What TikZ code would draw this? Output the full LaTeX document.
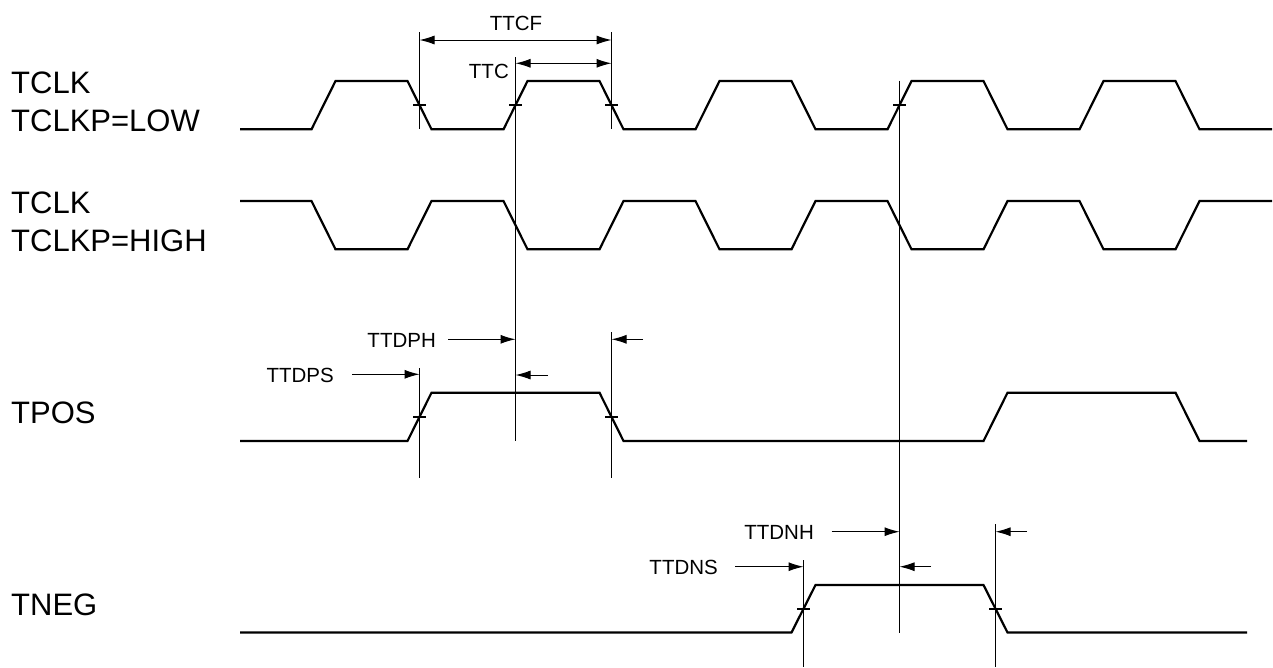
\documentclass[tikz,border=0pt]{standalone}
\usepackage{fontspec}
\setmainfont{Liberation Sans}
\usetikzlibrary{arrows.meta}
\begin{document}
\begin{tikzpicture}[x=1pt,y=-1pt,
  sig/.style={line width=2.2pt,line join=miter},
  mark line/.style={line width=1.9pt},
  tick/.style={line width=1.9pt},
  dim/.style={line width=1pt,-{Latex[length=15pt,width=9pt]}},
  dimboth/.style={line width=1pt,{Latex[length=15pt,width=9pt]}-{Latex[length=15pt,width=9pt]}},
  biglabel/.style={inner sep=0pt,anchor=base west,font=\fontsize{31}{38}\selectfont},
  smalllabel/.style={inner sep=0pt,font=\fontsize{20.5}{24}\selectfont}]
\useasboundingbox[fill=white] (0,0) rectangle (1273,667);

% signal labels
\node[biglabel] (l1a) at (11,93.3) {TCLK};
\node[biglabel] (l1b) at (11,131.7) {TCLKP=LOW};
\node[biglabel] (l2a) at (11,213.3) {TCLK};
\node[biglabel] (l2b) at (11,251.7) {TCLKP=HIGH};
\node[biglabel] (l3) at (11,423.3) {TPOS};
\node[biglabel] (l4) at (11,615.7) {TNEG};

% waveforms
\draw[sig] (240,129.3) -- (311.5,129.3) -- (335.5,81) -- (407.5,81) -- (431.5,129.3)
  -- (503.5,129.3) -- (527.5,81) -- (599.5,81) -- (623.5,129.3)
  -- (695.5,129.3) -- (719.5,81) -- (791.5,81) -- (815.5,129.3)
  -- (887.5,129.3) -- (911.5,81) -- (983.5,81) -- (1007.5,129.3)
  -- (1079.5,129.3) -- (1103.5,81) -- (1175.5,81) -- (1199.5,129.3) -- (1272,129.3);
\draw[sig] (240,201) -- (311.5,201) -- (335.5,249.3) -- (407.5,249.3) -- (431.5,201)
  -- (503.5,201) -- (527.5,249.3) -- (599.5,249.3) -- (623.5,201)
  -- (695.5,201) -- (719.5,249.3) -- (791.5,249.3) -- (815.5,201)
  -- (887.5,201) -- (911.5,249.3) -- (983.5,249.3) -- (1007.5,201)
  -- (1079.5,201) -- (1103.5,249.3) -- (1175.5,249.3) -- (1199.5,201) -- (1272,201);
\draw[sig] (240,441) -- (407.5,441) -- (431.5,392.7) -- (599.5,392.7) -- (623.5,441)
  -- (983.5,441) -- (1007.5,392.7) -- (1175.5,392.7) -- (1199.5,441) -- (1247,441);
\draw[sig] (240,632.5) -- (791.5,632.5) -- (815.5,585) -- (983.5,585) -- (1007.5,632.5) -- (1247,632.5);

% reference coordinates
\coordinate (a1t) at (419.5,32);   \coordinate (a1b) at (419.5,129.3);
\coordinate (a2t) at (419.5,368);  \coordinate (a2b) at (419.5,478);
\coordinate (bt) at (515.5,57);    \coordinate (bb) at (515.5,441);
\coordinate (c1t) at (611.5,32);   \coordinate (c1b) at (611.5,129.3);
\coordinate (c2t) at (611.5,332);  \coordinate (c2b) at (611.5,478);
\coordinate (dt) at (899.5,80.7);  \coordinate (db) at (899.5,633);
\coordinate (et) at (803.5,560);   \coordinate (eb) at (803.5,667);
\coordinate (ft) at (995.5,524);   \coordinate (fb) at (995.5,667);

% vertical marker lines
\draw[mark line] (a1t) -- (a1b);
\draw[mark line] (a2t) -- (a2b);
\draw[mark line] (bt) -- (bb);
\draw[mark line] (c1t) -- (c1b);
\draw[mark line] (c2t) -- (c2b);
\draw[mark line] (dt) -- (db);
\draw[mark line] (et) -- (eb);
\draw[mark line] (ft) -- (fb);

% crossing ticks
\foreach \x/\y in {419.5/105.2, 515.5/105.2, 611.5/105.2, 899.5/105.2,
                   419.5/416.8, 611.5/416.8, 803.5/608.8, 995.5/608.8}
  \draw[tick] (\x-6.5,\y) -- (\x+6.5,\y);

% TTCF / TTC
\coordinate (ttcfL) at (419.5,40);  \coordinate (ttcfR) at (611.5,40);
\draw[dimboth] (ttcfL) -- (ttcfR);
\node[smalllabel] (ttcf) at (516,23) {TTCF};
\coordinate (ttcL) at (515.5,63.3); \coordinate (ttcR) at (611.5,63.3);
\draw[dimboth] (ttcL) -- (ttcR);
\node[smalllabel,anchor=east] (ttc) at (509,71.5) {TTC};

% TPOS timing
\node[smalllabel,anchor=east] (ttdph) at (436,340) {TTDPH};
\coordinate (ph1) at (515.5,339.3);
\draw[dim] (448,339.3) -- (ph1);
\coordinate (ph2) at (515.5,375);
\draw[dim] (548,375) -- (ph2);
\coordinate (ph3) at (611.5,339.3);
\draw[dim] (643,339.3) -- (ph3);
\node[smalllabel,anchor=east] (ttdps) at (334,375.5) {TTDPS};
\coordinate (ps1) at (419.5,374.3);
\draw[dim] (352,374.3) -- (ps1);

% TNEG timing
\node[smalllabel,anchor=east] (ttdnh) at (814,532) {TTDNH};
\coordinate (nh1) at (899.5,531.7);
\draw[dim] (831.7,531.7) -- (nh1);
\coordinate (nh2) at (899.5,566.7);
\draw[dim] (931,566.7) -- (nh2);
\coordinate (nh3) at (995.5,531.7);
\draw[dim] (1027,531.7) -- (nh3);
\node[smalllabel,anchor=east] (ttdns) at (718,567.5) {TTDNS};
\coordinate (ns1) at (803.5,566.7);
\draw[dim] (735,566.7) -- (ns1);
\end{tikzpicture}
\end{document}
